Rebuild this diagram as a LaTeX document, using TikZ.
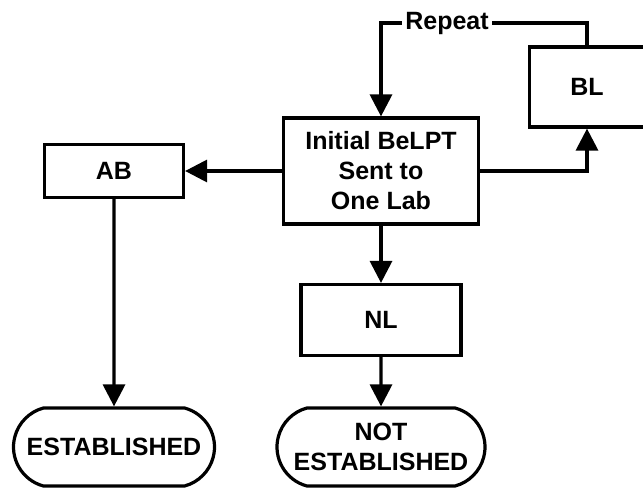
\documentclass[tikz,border=0pt]{standalone}
\usepackage{fontspec}
\setmainfont{Liberation Sans}
\usetikzlibrary{arrows.meta,shapes.misc,positioning}

\tikzset{
  labbox/.style={draw,line width=3.2pt,align=center,inner sep=2pt},
  endbox/.style={draw,line width=3.2pt,align=center,rounded rectangle,
    rounded rectangle arc length=150,inner sep=2pt},
  flow/.style={line width=3.2pt,-{Triangle[length=22pt,width=22pt]}},
}

\begin{document}
\begin{tikzpicture}[x=1pt,y=-1pt,font=\fontsize{25}{30}\selectfont\bfseries]
\useasboundingbox (0,0) rectangle (643,490);
% boxes
\node[labbox,minimum width=195pt,minimum height=106pt] (init) at (381,171)
  {Initial BeLPT\\Sent to\\One Lab};
\node[labbox,minimum width=115pt,minimum height=80pt] (bl) at (587,87) {BL};
\node[labbox,minimum width=139pt,minimum height=53pt] (ab) at (114,171) {AB};
\node[labbox,minimum width=160pt,minimum height=71pt] (nl) at (381,320) {NL};
% outcomes
\node[endbox,minimum width=205pt,minimum height=78pt] (est) at (114,447)
  {ESTABLISHED};
\node[endbox,minimum width=212pt,minimum height=78pt] (notest) at (381,447)
  {NOT\\ESTABLISHED};
% arrows
\coordinate (rep) at (381,23);
\draw[flow] (init) -- (ab);
\draw[flow] (init.east) -| (bl.south);
\draw[flow] (bl.north) |- (rep) -- (init.north);
\node[fill=white,inner sep=3pt] (repeat) at (447,23) {Repeat};
\draw[flow] (init) -- (nl);
\draw[flow] (nl) -- (notest);
\draw[flow] (ab) -- (est);
\end{tikzpicture}
\end{document}
